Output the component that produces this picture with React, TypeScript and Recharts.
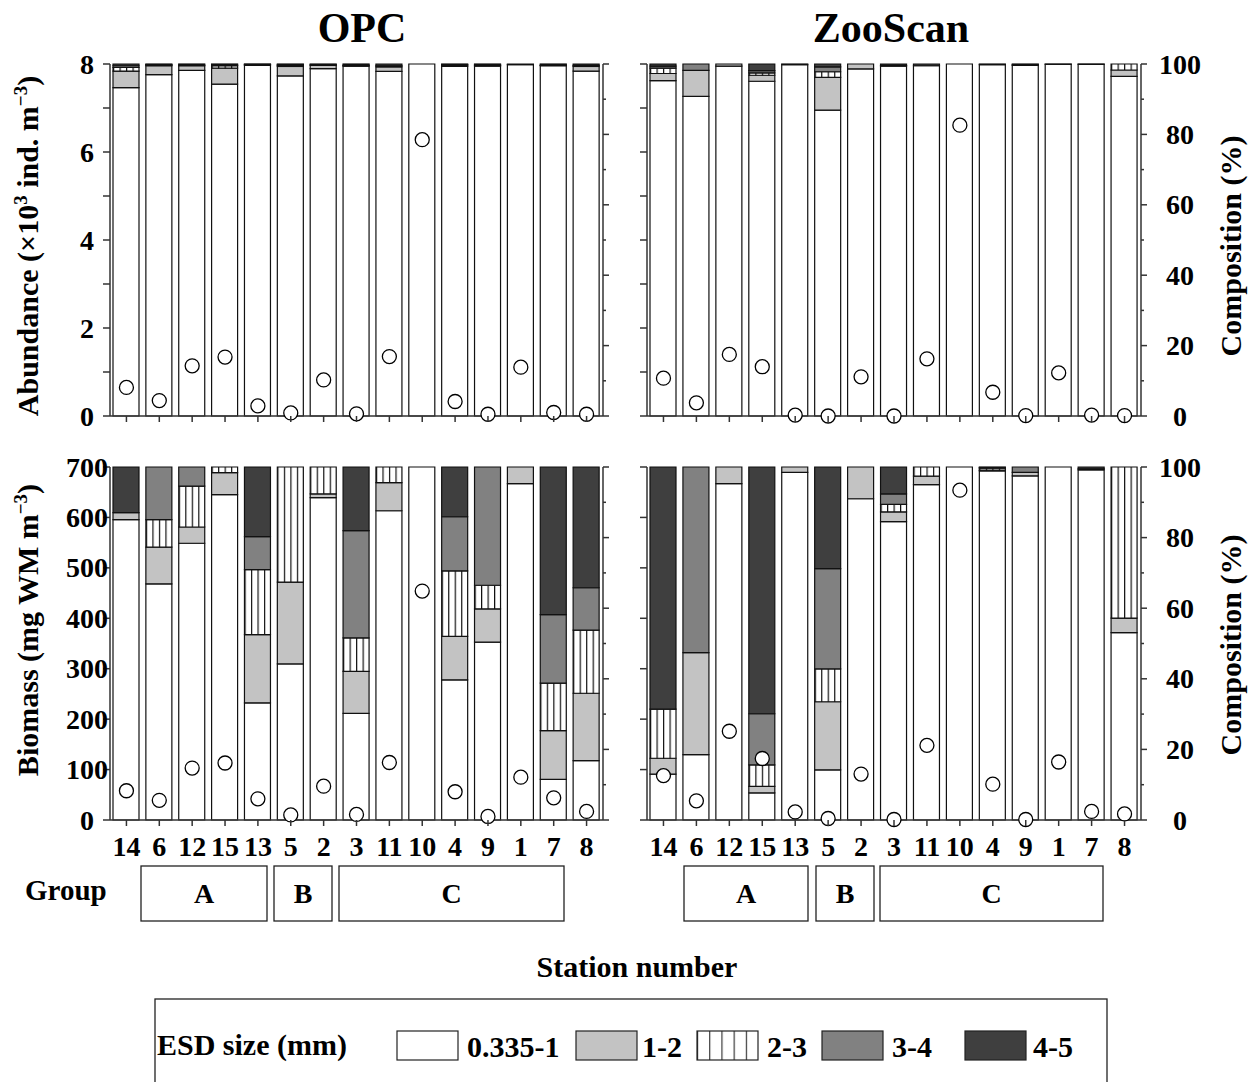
import React from 'react';
import { ComposedChart, Bar, Line, XAxis, YAxis } from 'recharts';

// ---------- data ----------
const stations = ['14', '6', '12', '15', '13', '5', '2', '3', '11', '10', '4', '9', '1', '7', '8'];
const sizeClasses = ['0.335-1', '1-2', '2-3', '3-4', '4-5'];

// OPC abundance (x10^3 ind. m^-3) and composition (%)
const opcAbundance = [0.65, 0.35, 1.14, 1.34, 0.23, 0.07, 0.82, 0.05, 1.35, 6.28, 0.33, 0.04, 1.11, 0.08, 0.04];
const opcAbundS1 = [93.3, 97.0, 98.2, 94.3, 99.6, 96.6, 98.7, 99.4, 97.9, 100, 99.3, 99.4, 99.8, 99.5, 98.0];
const opcAbundS2 = [4.7, 2.5, 1.3, 4.5, 0.2, 2.7, 0.9, 0.1, 1.3, 0, 0.4, 0.2, 0.2, 0.1, 1.3];
const opcAbundS3 = [1.0, 0.2, 0, 0.7, 0, 0.3, 0, 0, 0, 0, 0, 0, 0, 0, 0];
const opcAbundS4 = [0.5, 0.1, 0.2, 0.2, 0.1, 0.2, 0.2, 0.2, 0.3, 0, 0.1, 0.2, 0, 0.1, 0.3];
const opcAbundS5 = [0.5, 0.2, 0.3, 0.3, 0.1, 0.2, 0.2, 0.3, 0.5, 0, 0.2, 0.2, 0, 0.3, 0.4];

// ZooScan abundance
const zooAbundance = [0.86, 0.30, 1.40, 1.12, 0.02, 0.0, 0.89, 0.0, 1.30, 6.61, 0.54, 0.01, 0.98, 0.02, 0.01];
const zooAbundS1 = [95.3, 90.8, 99.4, 95.1, 99.8, 86.9, 98.6, 99.4, 99.5, 100, 99.8, 99.6, 99.9, 99.9, 96.5];
const zooAbundS2 = [2.0, 7.4, 0.6, 1.7, 0.2, 9.3, 1.4, 0, 0, 0, 0, 0, 0.1, 0, 1.8];
const zooAbundS3 = [1.5, 0, 0, 0.7, 0, 1.6, 0, 0, 0, 0, 0, 0, 0, 0, 1.7];
const zooAbundS4 = [0.6, 1.8, 0, 0.6, 0, 1.4, 0, 0.2, 0, 0, 0, 0.2, 0, 0, 0];
const zooAbundS5 = [0.6, 0, 0, 1.9, 0, 0.8, 0, 0.4, 0.5, 0, 0.2, 0.2, 0, 0.1, 0];

// OPC biomass (mg WM m^-3) and composition (%)
const opcBiomass = [58, 39, 103, 113, 42, 10, 67, 11, 114, 454, 56, 7, 85, 44, 17];
const opcBioS1 = [85.1, 66.9, 78.4, 92.2, 33.2, 44.2, 91.3, 30.2, 87.6, 100, 39.7, 50.4, 95.3, 11.5, 16.8];
const opcBioS2 = [2.0, 10.4, 4.6, 6.2, 19.3, 23.2, 1.1, 11.9, 8.0, 0, 12.3, 9.4, 4.7, 13.8, 19.1];
const opcBioS3 = [0, 7.8, 11.6, 1.6, 18.4, 32.6, 7.6, 9.5, 4.4, 0, 18.6, 6.7, 0, 13.5, 17.9];
const opcBioS4 = [0, 14.9, 5.4, 0, 9.4, 0, 0, 30.4, 0, 0, 15.3, 33.5, 0, 19.4, 12.0];
const opcBioS5 = [12.9, 0, 0, 0, 19.7, 0, 0, 18.0, 0, 0, 14.1, 0, 0, 41.8, 34.2];

// ZooScan biomass
const zooBiomass = [88, 38, 176, 122, 16, 3, 91, 1, 148, 654, 71, 1, 115, 17, 12];
const zooBioS1 = [13.0, 18.5, 95.3, 7.7, 98.5, 14.2, 91.0, 84.5, 95.0, 100, 98.9, 97.5, 100, 99.2, 53.1];
const zooBioS2 = [4.5, 28.9, 4.7, 1.8, 1.5, 19.3, 9.0, 2.8, 2.4, 0, 0.2, 1.0, 0, 0, 4.1];
const zooBioS3 = [13.9, 0, 0, 6.1, 0, 9.3, 0, 2.1, 2.6, 0, 0.6, 0, 0, 0, 42.8];
const zooBioS4 = [0, 52.6, 0, 14.5, 0, 28.4, 0, 3.0, 0, 0, 0.1, 1.5, 0, 0.3, 0];
const zooBioS5 = [68.6, 0, 0, 69.9, 0, 28.8, 0, 7.6, 0, 0, 0.2, 0, 0, 0.5, 0];

const abundTicks = [0, 1, 2, 3, 4, 5, 6, 7, 8];
const bioTicks = [0, 100, 200, 300, 400, 500, 600, 700];
const pctTicks = [0, 10, 20, 30, 40, 50, 60, 70, 80, 90, 100];
const groupLabels = ['A', 'B', 'C'];

// ---------- style ----------
const W = 1260;
const H = 1082;
const FONT = '"Liberation Serif", "Times New Roman", serif';
const AXIS = '#333';
const FILLS = ['#ffffff', '#c3c3c3', 'url(#hatchBar)', '#818181', '#3f3f3f'];

const build = (abs: number[], s: number[][]) =>
  stations.map((st, i) => ({
    station: st,
    abs: abs[i],
    s1: s[0][i],
    s2: s[1][i],
    s3: s[2][i],
    s4: s[3][i],
    s5: s[4][i],
  }));

type PanelProps = {
  data: any[];
  left: number;
  right: number;
  top: number;
  bottom: number;
  absMax: number;
  absTicks: number[];
  absLabelEvery: number;
  leftLabels: boolean;
  rightLabels: boolean;
  xLabels: boolean;
};

function Panel(p: PanelProps) {
  const leftTick = (props: any) => {
    const { y, payload } = props;
    const v = payload.value;
    const lab = p.leftLabels && v % p.absLabelEvery === 0;
    return (
      <g>
        <line x1={p.left - 7} x2={p.left} y1={y} y2={y} stroke={AXIS} strokeWidth={1.5} />
        {lab && (
          <text x={87} y={y} textAnchor="middle" dominantBaseline="central" fontFamily={FONT} fontWeight="bold" fontSize={28} fill="#000">
            {v}
          </text>
        )}
      </g>
    );
  };
  const rightTick = (props: any) => {
    const { y, payload } = props;
    const v = payload.value;
    const major = v % 20 === 0;
    return (
      <g>
        <line x1={p.right} x2={p.right + (major ? 6 : 3)} y1={y} y2={y} stroke={AXIS} strokeWidth={1.5} />
        {major && p.rightLabels && (
          <text x={1180} y={y} textAnchor="middle" dominantBaseline="central" fontFamily={FONT} fontWeight="bold" fontSize={28} fill="#000">
            {v}
          </text>
        )}
      </g>
    );
  };
  const xTick = (props: any) => {
    const { x, payload } = props;
    return (
      <g>
        <line x1={x} x2={x} y1={p.bottom} y2={p.bottom + 6} stroke={AXIS} strokeWidth={1.5} />
        {p.xLabels && (
          <text x={x} y={p.bottom + 36} textAnchor="middle" fontFamily={FONT} fontWeight="bold" fontSize={28} fill="#000">
            {payload.value}
          </text>
        )}
      </g>
    );
  };
  const keys = ['s1', 's2', 's3', 's4', 's5'];
  return (
    <div style={{ position: 'absolute', left: 0, top: 0, width: W, height: H }}>
      <ComposedChart
        width={W}
        height={H}
        data={p.data}
        margin={{ top: p.top, left: p.left - 60, right: W - p.right - 60, bottom: H - p.bottom - 40 }}
      >
        <XAxis dataKey="station" type="category" height={40} interval={0} axisLine={{ stroke: AXIS, strokeWidth: 1.5 }} tickLine={false} tick={xTick} />
        <YAxis yAxisId="abs" orientation="left" width={60} domain={[0, p.absMax]} ticks={p.absTicks} interval={0} axisLine={{ stroke: AXIS, strokeWidth: 1.5 }} tickLine={false} tick={leftTick} />
        <YAxis yAxisId="pct" orientation="right" width={60} domain={[0, 100]} ticks={pctTicks} interval={0} axisLine={{ stroke: AXIS, strokeWidth: 1.5 }} tickLine={false} tick={rightTick} />
        {keys.map((k, i) => (
          <Bar key={k} dataKey={k} name={sizeClasses[i]} stackId="c" yAxisId="pct" barSize={26} fill={FILLS[i]} stroke="#111" strokeWidth={1.2} isAnimationActive={false} />
        ))}
        <Line dataKey="abs" yAxisId="abs" stroke="none" strokeWidth={0} dot={{ r: 7, fill: '#fff', stroke: '#000', strokeWidth: 1.3 }} activeDot={false} isAnimationActive={false} />
      </ComposedChart>
    </div>
  );
}

const T = (props: any) => <text fontFamily={FONT} fontWeight="bold" fill="#000" {...props} />;

export default function App() {
  const opcA = build(opcAbundance, [opcAbundS1, opcAbundS2, opcAbundS3, opcAbundS4, opcAbundS5]);
  const zooA = build(zooAbundance, [zooAbundS1, zooAbundS2, zooAbundS3, zooAbundS4, zooAbundS5]);
  const opcB = build(opcBiomass, [opcBioS1, opcBioS2, opcBioS3, opcBioS4, opcBioS5]);
  const zooB = build(zooBiomass, [zooBioS1, zooBioS2, zooBioS3, zooBioS4, zooBioS5]);

  const L = { left: 110, right: 603 };
  const R = { left: 647, right: 1141 };
  const TOP = { top: 64, bottom: 416 };
  const BOT = { top: 467, bottom: 820 };

  const groupsLeft = [[141, 267], [274, 332], [339, 564]];
  const groupsRight = [[684, 808], [816, 874], [880, 1103]];

  const legendItems = [
    { box: 397, label: 467 },
    { box: 576, label: 642 },
    { box: 697, label: 767 },
    { box: 822, label: 892 },
    { box: 965, label: 1033 },
  ];

  return (
    <div style={{ position: 'absolute', left: 0, top: 0, width: W, height: H, overflow: 'hidden', background: '#fff' }}>
      <svg width={0} height={0} style={{ position: 'absolute' }}>
        <defs>
          <pattern id="hatchBar" patternUnits="objectBoundingBox" width={0.25} height={1}>
            <rect x={0} y={0} width={100} height={2000} fill="#fff" />
            <line x1={0.6} y1={0} x2={0.6} y2={2000} stroke="#111" strokeWidth={1.2} />
          </pattern>
          <pattern id="hatchLegend" patternUnits="objectBoundingBox" width={0.2} height={1}>
            <rect x={0} y={0} width={100} height={200} fill="#fff" />
            <line x1={0.6} y1={0} x2={0.6} y2={200} stroke="#111" strokeWidth={1} />
          </pattern>
        </defs>
      </svg>

      <Panel data={opcA} {...L} {...TOP} absMax={8} absTicks={abundTicks} absLabelEvery={2} leftLabels={true} rightLabels={false} xLabels={false} />
      <Panel data={zooA} {...R} {...TOP} absMax={8} absTicks={abundTicks} absLabelEvery={2} leftLabels={false} rightLabels={true} xLabels={false} />
      <Panel data={opcB} {...L} {...BOT} absMax={700} absTicks={bioTicks} absLabelEvery={100} leftLabels={true} rightLabels={false} xLabels={true} />
      <Panel data={zooB} {...R} {...BOT} absMax={700} absTicks={bioTicks} absLabelEvery={100} leftLabels={false} rightLabels={true} xLabels={true} />

      <svg width={W} height={H} style={{ position: 'absolute', left: 0, top: 0, pointerEvents: 'none' }}>
        <T x={362} y={42} fontSize={42} textAnchor="middle">OPC</T>
        <T x={891} y={42} fontSize={42} textAnchor="middle">ZooScan</T>

        <T transform="translate(38,246) rotate(-90)" fontSize={30} textAnchor="middle">
          Abundance (×10<tspan fontSize={19} dy={-11}>3</tspan>
          <tspan dy={11}> ind. m</tspan>
          <tspan fontSize={19} dy={-11}>−3</tspan>
          <tspan dy={11}>)</tspan>
        </T>
        <T transform="translate(38,630) rotate(-90)" fontSize={30} textAnchor="middle">
          Biomass (mg WM m<tspan fontSize={19} dy={-11}>−3</tspan>
          <tspan dy={11}>)</tspan>
        </T>
        <T transform="translate(1241,246) rotate(-90)" fontSize={30} textAnchor="middle">Composition (%)</T>
        <T transform="translate(1241,645) rotate(-90)" fontSize={30} textAnchor="middle">Composition (%)</T>

        <T x={25} y={900} fontSize={29}>Group</T>
        {groupsLeft.map((g, i) => (
          <g key={'gl' + i}>
            <rect x={g[0]} y={866} width={g[1] - g[0]} height={55} fill="#fff" stroke="#222" strokeWidth={1.3} />
            <T x={(g[0] + g[1]) / 2} y={903} fontSize={28} textAnchor="middle">{groupLabels[i]}</T>
          </g>
        ))}
        {groupsRight.map((g, i) => (
          <g key={'gr' + i}>
            <rect x={g[0]} y={866} width={g[1] - g[0]} height={55} fill="#fff" stroke="#222" strokeWidth={1.3} />
            <T x={(g[0] + g[1]) / 2} y={903} fontSize={28} textAnchor="middle">{groupLabels[i]}</T>
          </g>
        ))}

        <T x={637} y={977} fontSize={30} textAnchor="middle">Station number</T>

        <rect x={155} y={999} width={952} height={120} fill="none" stroke="#222" strokeWidth={1.3} />
        <T x={157} y={1055} fontSize={30}>ESD size (mm)</T>
        {legendItems.map((it, i) => (
          <g key={'lg' + i}>
            <rect x={it.box} y={1031} width={61} height={29} fill={i === 2 ? 'url(#hatchLegend)' : FILLS[i]} stroke="#222" strokeWidth={1.2} />
            <T x={it.label} y={1057} fontSize={30}>{sizeClasses[i]}</T>
          </g>
        ))}
      </svg>
    </div>
  );
}
